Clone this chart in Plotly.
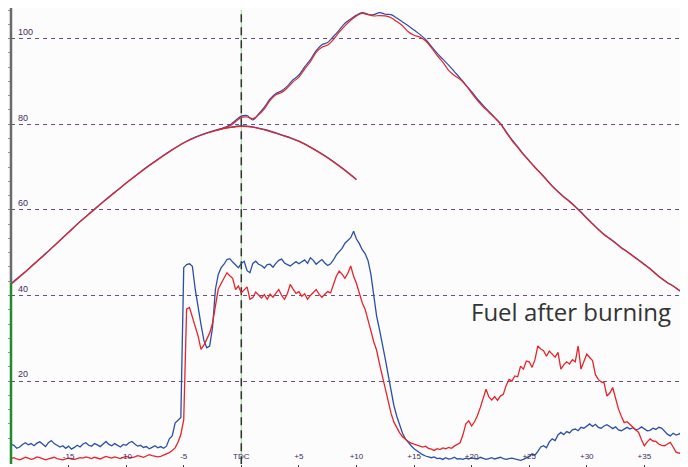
import numpy as np
import plotly.graph_objects as go

# ---------------- data ----------------
y_tick_vals = [20, 40, 60, 80, 100]
y_tick_text = ["20", "40", "60", "80", "100"]
x_tick_vals = [-15, -10, -5, 0, 5, 10, 15, 20, 25, 30, 35]
x_tick_text = ["-15", "-10", "-5", "TDC", "+5", "+10", "+15", "+20", "+25", "+30", "+35"]

# motored pressure (crank angle, 1 deg steps, -20 .. +10)
motored_angle = list(range(-20, 11))
motored_red = [42.6, 44.9, 47.3, 49.7, 52.2, 54.7, 57.2, 59.5, 61.8, 64.0, 66.2,
               68.3, 70.3, 72.2, 74.0, 75.6, 76.9, 77.9, 78.7, 79.2, 79.5,
               79.3, 78.7, 77.9, 77.0, 76.0, 74.6, 73.0, 71.2, 69.2, 67.0]
motored_blue = [42.8, 45.0, 47.4, 49.8, 52.3, 54.8, 57.3, 59.6, 61.9, 64.1, 66.3,
                68.4, 70.4, 72.3, 74.1, 75.7, 77.0, 78.0, 78.8, 79.3, 79.6,
                79.4, 78.8, 78.0, 77.1, 76.1, 74.7, 73.1, 71.3, 69.3, 67.1]

# fired pressure (0.5 deg steps, -2 .. +39)
fired_angle = [a / 2 for a in range(-4, 79)]
fired_red = [78.7, 79.1, 79.6, 80.6, 81.6, 81.7, 81.3, 82.2, 83.6, 85.6,
             86.9, 87.4, 88.5, 89.9, 91.0, 92.9, 94.6, 96.8, 98.0, 98.5,
             99.8, 101.5, 103.0, 104.3, 105.3, 105.9, 105.6, 105.3, 105.4, 105.3,
             104.9, 104.0, 103.0, 101.6, 100.8, 100.4, 99.5, 97.9, 96.1, 94.5,
             92.6, 91.4, 90.5, 89.1, 87.3, 85.6, 84.1, 82.8, 81.5, 80.1,
             78.1, 76.2, 74.6, 72.9, 71.4, 69.9, 68.5, 67.0, 65.5, 64.2,
             63.0, 61.9, 60.7, 59.4, 58.0, 56.7, 55.4, 54.2, 53.2, 52.2,
             51.1, 50.2, 49.2, 48.2, 47.2, 46.2, 45.0, 43.9, 43.0, 42.2,
             41.3, 40.6, 39.8]
fired_blue = [78.7, 79.2, 79.8, 80.9, 81.9, 82.0, 81.0, 82.4, 84.0, 85.9,
              87.2, 87.8, 88.9, 90.4, 91.5, 93.4, 95.1, 97.2, 98.6, 99.1,
              100.5, 102.0, 103.6, 104.6, 105.5, 106.1, 105.7, 105.6, 106.1, 105.7,
              105.6, 104.8, 103.9, 103.0, 102.0, 101.0, 99.8, 98.2, 96.6, 95.2,
              93.8, 92.3, 90.8, 89.2, 87.6, 85.9, 84.4, 83.0, 81.6, 80.2,
              78.3, 76.4, 74.8, 73.0, 71.5, 70.0, 68.6, 67.1, 65.6, 64.3,
              63.1, 62.0, 60.8, 59.5, 58.1, 56.8, 55.5, 54.3, 53.3, 52.3,
              51.2, 50.3, 49.3, 48.3, 47.3, 46.3, 45.1, 44.0, 43.0, 42.2,
              41.2, 40.5, 39.7]

# injection / fuel traces (0.25 deg steps, -20 .. +38.75)
inj_angle = [a / 4 for a in range(-80, 156)]
inj_blue = [
    5.3, 5.0, 4.3, 4.6, 5.2, 5.6, 5.1, 5.4, 4.9, 5.5, 5.8, 5.2, 4.7, 5.6, 6.1, 5.4, 5.0, 4.6, 4.9, 4.3,
    4.8, 4.1, 4.5, 5.0, 4.6, 5.3, 5.6, 5.0, 4.8, 5.4, 5.1, 4.7, 5.3, 5.9, 5.2, 4.9, 5.4, 5.0, 4.6, 5.2,
    5.0, 5.6, 5.9, 5.3, 4.8, 5.0, 4.5, 4.7, 4.2, 4.5, 4.9, 4.4, 4.7, 4.3, 4.8, 6.5, 7.2, 10.2, 10.9, 11.5,
    46.5, 47.2, 47.4, 46.8, 41.4, 37.0, 33.2, 29.5, 27.8, 28.2, 32.5, 41.4, 44.9, 46.5, 47.3, 48.4, 48.6, 47.8, 47.2, 46.5,
    47.5, 48.0, 45.8, 45.3, 47.5, 48.0, 47.3, 47.0, 46.4, 47.2, 47.3, 46.6, 47.5, 48.2, 48.5, 47.6, 47.2, 46.9, 47.4, 47.9,
    47.4, 47.9, 48.3, 47.5, 48.8, 48.2, 47.3, 47.9, 48.4, 47.6, 47.0, 47.4, 48.3, 49.5, 50.2, 51.0, 52.2, 52.8, 53.5, 55.0,
    53.2, 52.1, 50.7, 49.8, 48.2, 45.0, 40.5, 35.2, 32.0, 28.8, 25.2, 21.5, 17.5, 14.3, 11.8, 9.8, 7.8, 6.5, 5.6, 4.9,
    4.2, 3.7, 3.2, 2.8, 2.5, 2.3, 2.1, 2.3, 1.9, 2.0, 1.7, 2.1, 1.8, 1.9, 2.2, 1.8, 1.9, 1.7, 2.0, 1.8,
    2.1, 1.9, 1.8, 2.2, 2.0, 1.7, 1.9, 2.1, 1.8, 2.0, 2.2, 1.9, 1.7, 1.9, 2.0, 1.8, 1.6, 1.5, 1.7, 2.0,
    2.4, 3.0, 2.7, 3.6, 4.6, 4.9, 4.4, 5.8, 6.5, 6.1, 7.4, 8.0, 7.5, 8.2, 7.9, 8.6, 8.8, 8.4, 9.2, 9.0,
    9.6, 10.0, 9.4, 9.9, 9.2, 9.0, 9.5, 9.8, 9.4, 8.9, 9.3, 8.6, 8.4, 8.9, 9.2, 8.8, 9.1, 8.6, 8.8, 9.3,
    8.9, 8.4, 8.5, 9.0, 8.7, 9.2, 9.0, 8.2, 7.6, 7.2, 7.8, 7.4, 7.6, 8.1, 8.0, 8.2]
inj_red = [
    1.9, 2.1, 1.8, 1.6, 1.9, 2.2, 2.0, 1.7, 1.9, 2.3, 2.1, 1.8, 1.6, 1.8, 2.0, 2.2, 1.9, 1.7, 1.6, 1.8,
    2.0, 1.8, 1.7, 1.9, 2.1, 2.0, 2.3, 2.1, 1.9, 2.2, 2.0, 1.8, 2.1, 2.4, 2.2, 2.0, 2.3, 2.1, 1.9, 2.2,
    2.4, 2.2, 2.1, 2.3, 2.6, 2.4, 2.2, 2.5, 2.8, 2.6, 2.5, 2.3, 2.4, 2.7, 2.9, 3.3, 3.8, 4.4, 5.7, 7.5,
    11.0, 36.8, 37.2, 34.8, 33.0, 30.5, 27.4, 28.4, 29.8, 31.2, 33.5, 37.5, 41.5, 42.8, 44.2, 45.3, 44.6, 44.0, 41.4, 42.2,
    40.6, 41.2, 42.0, 39.1, 39.5, 40.8, 40.0, 39.4, 40.2, 39.1, 40.3, 39.6, 40.5, 41.4, 40.0, 39.1, 40.4, 42.6, 41.5, 40.5,
    40.9, 39.8, 40.4, 39.1, 40.0, 40.7, 41.4, 40.3, 39.6, 40.3, 40.9, 40.6, 42.5, 44.5, 45.7, 45.0, 44.0, 45.2, 46.9, 44.5,
    42.8, 40.2, 38.3, 36.8, 34.0, 31.8, 29.2, 27.2, 24.0, 21.0, 18.0, 15.5, 12.5, 10.4, 9.0, 7.9, 7.0, 6.4, 5.9, 5.5,
    5.3, 5.0, 4.9, 4.6, 4.8, 4.3, 4.1, 3.8, 4.2, 4.0, 4.4, 4.2, 4.5, 4.3, 4.8, 5.2, 5.6, 7.5, 10.0, 10.7,
    9.5, 10.5, 11.9, 13.8, 16.0, 18.1, 16.3, 15.6, 16.4, 15.5, 16.5, 16.9, 19.0, 20.4, 20.0, 21.2, 21.0, 23.5, 22.8, 24.7,
    24.5, 23.2, 25.0, 28.2, 27.5, 27.1, 25.8, 27.0, 26.3, 25.6, 26.7, 22.8, 23.8, 24.5, 24.0, 25.0, 24.5, 28.2, 22.8, 24.5,
    26.3, 25.5, 24.8, 21.5, 20.4, 19.8, 19.6, 16.5, 17.2, 18.5, 15.8, 13.5, 11.8, 10.3, 10.5, 9.9, 9.2, 8.5, 8.0, 6.3,
    4.9, 5.8, 6.5, 6.0, 5.9, 5.3, 5.0, 4.9, 5.4, 5.7, 4.6, 3.4, 3.2, 3.0, 2.9, 2.7]

annotation_text = "Fuel after burning"

# ---------------- figure ----------------
RED = "#e8232b"
BLUE = "#2b4fa6"

fig = go.Figure()
fig.add_trace(go.Scatter(x=motored_angle, y=motored_blue, mode="lines",
                         line=dict(color=BLUE, width=1.2, shape="spline"), hoverinfo="skip"))
fig.add_trace(go.Scatter(x=motored_angle, y=motored_red, mode="lines",
                         line=dict(color=RED, width=1.2, shape="spline"), hoverinfo="skip"))
fig.add_trace(go.Scatter(x=fired_angle, y=fired_blue, mode="lines",
                         line=dict(color=BLUE, width=1.2, shape="spline"), hoverinfo="skip"))
fig.add_trace(go.Scatter(x=fired_angle, y=fired_red, mode="lines",
                         line=dict(color=RED, width=1.2, shape="spline"), hoverinfo="skip"))
fig.add_trace(go.Scatter(x=inj_angle, y=inj_blue, mode="lines",
                         line=dict(color=BLUE, width=1.3), hoverinfo="skip"))
fig.add_trace(go.Scatter(x=inj_angle, y=inj_red, mode="lines",
                         line=dict(color=RED, width=1.3), hoverinfo="skip"))

# TDC marker line: light green with dark dashes
fig.add_shape(type="line", xref="x", yref="y", x0=0, x1=0, y0=0.6, y1=106.7,
              line=dict(color="#a8dca8", width=1.2), layer="below")
fig.add_shape(type="line", xref="x", yref="y", x0=0, x1=0, y0=0.6, y1=106.7,
              line=dict(color="#333333", width=1.5, dash="8px,5px"), layer="below")

# left axis bar: grey upper part, green lower part
fig.add_shape(type="line", xref="paper", yref="y", x0=0, x1=0, y0=43.0, y1=107.16,
              line=dict(color="#6a6a6a", width=2.5))
fig.add_shape(type="line", xref="paper", yref="y", x0=0, x1=0, y0=0.63, y1=43.0,
              line=dict(color="#1f8a2e", width=2.5))

fig.add_annotation(x=28.66, y=36.3, xref="x", yref="y", text=annotation_text,
                   showarrow=False, font=dict(family="Open Sans", size=24, color="#333333"))

fig.update_layout(
    width=680, height=459,
    margin=dict(l=1, r=0, t=0, b=2),
    paper_bgcolor="#fcfcfc", plot_bgcolor="#fcfcfc",
    showlegend=False,
    xaxis=dict(range=[-20.0, 38.79], tickmode="array", tickvals=x_tick_vals, ticktext=x_tick_text,
               showgrid=False, zeroline=False, showline=False,
               ticks="outside", ticklen=3, tickcolor="#444",
               ticklabelposition="inside",
               tickfont=dict(family="Liberation Sans", size=8, color="#3c2c5c")),
    yaxis=dict(range=[0.63, 107.16], tickmode="array", tickvals=y_tick_vals, ticktext=y_tick_text,
               showgrid=True, gridcolor="#6e4c7c", gridwidth=1, griddash="4px,4px",
               zeroline=False, showline=False,
               ticks="outside", ticklen=3, tickcolor="#888",
               ticklabelposition="inside top", ticklabelstandoff=4,
               tickfont=dict(family="Liberation Sans", size=9, color="#3c2c5c"),
               minor=dict(dtick=20 / 6, tick0=0, ticks="outside", ticklen=3, tickcolor="#999",
                          showgrid=False)),
)

fig.write_html("out.html")
